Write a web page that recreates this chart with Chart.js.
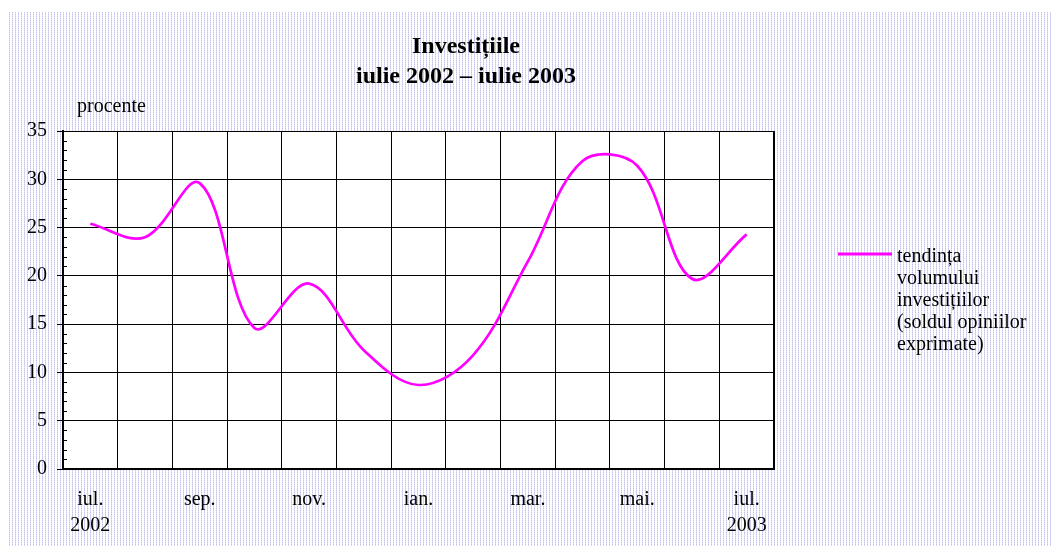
<!DOCTYPE html>
<html>
<head>
<meta charset="utf-8">
<script src="https://cdn.jsdelivr.net/npm/chart.js@4/dist/chart.umd.min.js"></script>
<style>
  html, body { margin: 0; padding: 0; background: #fff; }
  #wrap { width: 1058px; height: 552px; position: relative; }
</style>
</head>
<body>
<div id="wrap"><canvas id="chart"></canvas></div>
<script>
// luni: iulie 2002 - iulie 2003
const months = ["iul.", "aug.", "sep.", "oct.", "nov.", "dec.", "ian.", "feb.", "mar.", "apr.", "mai.", "iun.", "iul."];
// etichete afisate pe axa x (doar din doua in doua luni)
const tickLabels = [["iul.", "2002"], "", "sep.", "", "nov.", "", "ian.", "", "mar.", "", "mai.", "", ["iul.", "2003"]];
// soldul opiniilor, procente
const investitii = [25.4, 24.0, 29.6, 14.6, 19.2, 12.3, 8.7, 11.8, 21.5, 31.9, 31.4, 19.7, 24.3];
const yTicks = [0, 5, 10, 15, 20, 25, 30, 35];

const titleLines = ["Investițiile", "iulie 2002 – iulie 2003"];
const unitLabel = "procente";
const legendLines = ["tendința", "volumului", "investițiilor", "(soldul opiniilor", "exprimate)"];

const SERIF = "'Liberation Serif', 'Times New Roman', serif";
const LINE_COLOR = "#ff00ff";

// fundal hasurat ca in Excel
function makePattern(ctx) {
  const tile = document.createElement("canvas");
  tile.width = 3;
  tile.height = 2;
  const t = tile.getContext("2d");
  t.fillStyle = "#ffffff";
  t.fillRect(0, 0, 3, 2);
  t.fillStyle = "#c4c4f0";
  t.fillRect(0, 0, 1, 1);
  t.fillStyle = "#dcdcf6";
  t.fillRect(0, 1, 1, 1);
  return ctx.createPattern(tile, "repeat");
}

const decorPlugin = {
  id: "decor",
  beforeDraw(chart) {
    const { ctx, chartArea: a, width, height } = chart;
    ctx.save();
    ctx.fillStyle = makePattern(ctx);
    ctx.fillRect(7, 12, width - 14, height - 18);
    ctx.fillStyle = "#ffffff";
    ctx.fillRect(a.left, a.top, a.right - a.left, a.bottom - a.top);
    ctx.restore();
  },
  afterDraw(chart) {
    const { ctx, chartArea: a } = chart;
    const y = chart.scales.y;
    ctx.save();

    // liniute minore pe axa y
    ctx.strokeStyle = "#000";
    ctx.lineWidth = 1;
    for (let v = 0; v <= 35; v++) {
      if (v % 5 === 0) continue;
      const py = Math.round(y.getPixelForValue(v)) + 0.5;
      ctx.beginPath();
      ctx.moveTo(a.left, py);
      ctx.lineTo(a.left + 4, py);
      ctx.stroke();
    }

    // chenarul zonei graficului
    ctx.lineWidth = 2;
    ctx.beginPath();
    ctx.moveTo(a.right, a.top);
    ctx.lineTo(a.right, a.bottom);
    ctx.stroke();

    // titlu
    ctx.fillStyle = "#000";
    ctx.textAlign = "center";
    ctx.textBaseline = "alphabetic";
    ctx.font = "bold 24px " + SERIF;
    ctx.fillText(titleLines[0], 466, 53);
    ctx.fillText(titleLines[1], 466, 83);

    // unitatea de masura
    ctx.textAlign = "left";
    ctx.font = "20px " + SERIF;
    ctx.fillText(unitLabel, a.left + 14, a.top - 19);

    // legenda
    const mid = (a.top + a.bottom) / 2;
    const lh = 22;
    const y0 = mid - (legendLines.length - 1) * lh / 2;
    ctx.strokeStyle = LINE_COLOR;
    ctx.lineWidth = 3;
    ctx.beginPath();
    ctx.moveTo(a.right + 64, y0 - 2);
    ctx.lineTo(a.right + 118, y0 - 2);
    ctx.stroke();
    ctx.textBaseline = "middle";
    legendLines.forEach((line, i) => {
      ctx.fillText(line, a.right + 123, y0 + 1 + i * lh);
    });
    ctx.restore();
  },
};

new Chart(document.getElementById("chart"), {
  type: "line",
  data: {
    labels: months,
    datasets: [
      {
        label: legendLines.join(" "),
        data: investitii,
        borderColor: LINE_COLOR,
        borderWidth: 2.7,
        pointRadius: 0,
        tension: 0.36,
        fill: false,
      },
    ],
  },
  options: {
    responsive: true,
    maintainAspectRatio: false,
    animation: false,
    layout: {
      padding: { top: 131, right: 284, bottom: 0, left: 0 },
    },
    plugins: {
      legend: { display: false },
      title: { display: false },
      tooltip: { enabled: false },
    },
    scales: {
      x: {
        offset: true,
        afterFit: (scale) => { scale.height = 83; },
        grid: {
          offset: true,
          color: "#000",
          lineWidth: 1,
          drawTicks: false,
        },
        border: { display: true, color: "#000", width: 2 },
        ticks: {
          autoSkip: false,
          maxRotation: 0,
          padding: 18,
          color: "#000",
          font: { family: SERIF, size: 20, lineHeight: 1.3 },
          callback: (value, index) => tickLabels[index],
        },
      },
      y: {
        min: 0,
        max: 35,
        afterFit: (scale) => { scale.width = 63; },
        afterBuildTicks: (scale) => { scale.ticks = yTicks.map((v) => ({ value: v })); },
        grid: {
          color: "#000",
          lineWidth: 1,
          drawTicks: true,
          tickLength: 6,
        },
        border: { display: true, color: "#000", width: 2 },
        ticks: {
          padding: 10,
          color: "#000",
          font: { family: SERIF, size: 20 },
        },
      },
    },
  },
  plugins: [decorPlugin],
});
</script>
</body>
</html>
